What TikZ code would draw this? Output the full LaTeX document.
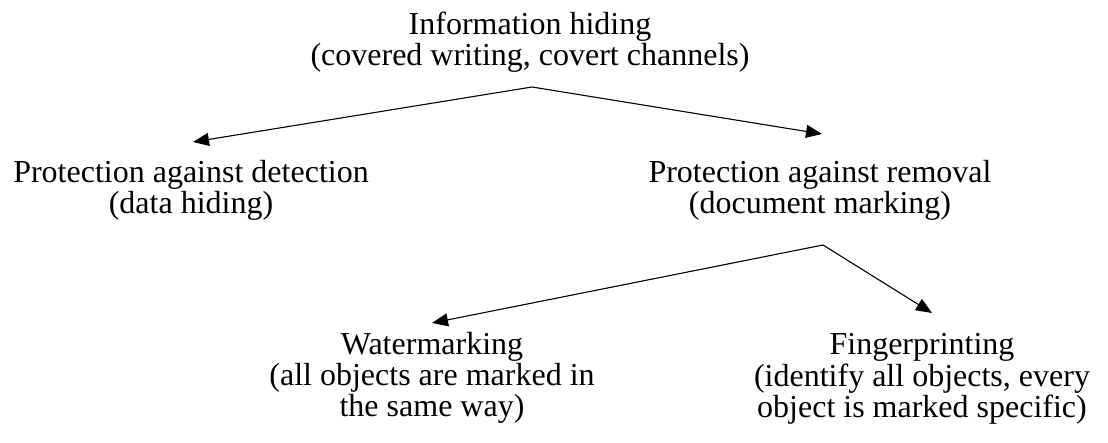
\documentclass[tikz,border=0pt]{standalone}
\usepackage{fontspec}
\setmainfont{Liberation Serif}
\usetikzlibrary{arrows.meta}
\newcommand{\mlines}[1]{\begin{tabular}[t]{@{}c@{}}#1\end{tabular}}
\begin{document}
\begin{tikzpicture}[x=1pt,y=-1pt,
  lbl/.style={anchor=base,inner sep=0pt,font=\fontsize{32}{28.5}\selectfont},
  conn/.style={line width=1.1pt,-{Triangle[length=16pt,width=13pt]}}]
\useasboundingbox (0,0) rectangle (1108,443);
\node[lbl] (top) at (530,35) {\mlines{Information hiding\\(covered writing, covert channels)}};
\node[lbl] (det) at (191,183) {\mlines{Protection against detection\\(data hiding)}};
\node[lbl] (rem) at (820,183) {\mlines{Protection against removal\\(document marking)}};
\node[lbl] (wat) at (432,355) {\mlines{Watermarking\\(all objects are marked in\\the same way)}};
\node[lbl] (fin) at (922,355) {\mlines{Fingerprinting\\(identify all objects, every\\object is marked specific)}};
\coordinate (j1) at (532,87);
\coordinate (j2) at (823,245);
\coordinate (tdet) at (193,142);
\coordinate (trem) at (822,134);
\coordinate (twat) at (432,323);
\coordinate (tfin) at (932,313);
\draw[conn] (j1) -- (tdet);
\draw[conn] (j1) -- (trem);
\draw[conn] (j2) -- (twat);
\draw[conn] (j2) -- (tfin);
\end{tikzpicture}
\end{document}
